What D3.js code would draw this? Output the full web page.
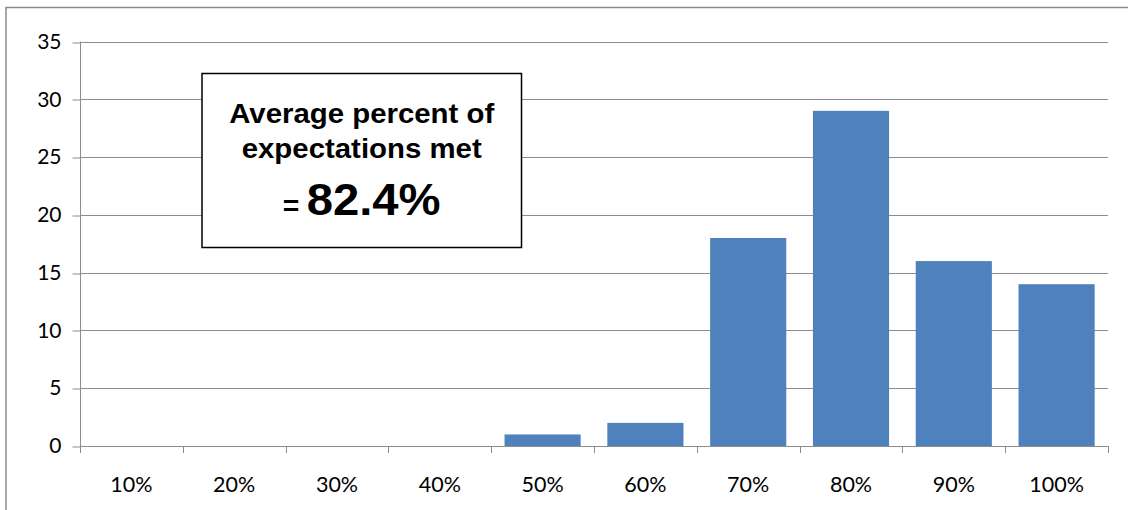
<!DOCTYPE html>
<html>
<head>
<meta charset="utf-8">
<script src="https://cdn.jsdelivr.net/npm/d3@7"></script>
<style>
  html, body { margin: 0; padding: 0; background: #fff; }
  svg { display: block; }
</style>
</head>
<body>
<svg id="chart" width="1128" height="510"></svg>
<script>
// Distribution of the percent of expectations met
const categories = ["10%", "20%", "30%", "40%", "50%", "60%", "70%", "80%", "90%", "100%"];
const counts = [0, 0, 0, 0, 1, 2, 18, 29, 16, 14];
const yTicks = [0, 5, 10, 15, 20, 25, 30, 35];
const noteLines = ["Average percent of", "expectations met"];
const noteValue = "82.4%";

const svg = d3.select("#chart");
const W = 1128, H = 510;
const plot = { left: 80, right: 1108, top: 41.5, bottom: 446 };
const labelFont = "Lato, 'Open Sans', sans-serif";
const noteFont = "'Liberation Sans', Arial, sans-serif";

// outer chart frame
svg.append("rect")
  .attr("x", 6).attr("y", 7.5)
  .attr("width", W + 10).attr("height", H + 10)
  .attr("fill", "none").attr("stroke", "#8a8a8a").attr("stroke-width", 1.5);

const x = d3.scaleBand()
  .domain(categories)
  .range([plot.left, plot.right])
  .paddingInner(0.35 / 1.35)
  .paddingOuter(0.35 / 2.7);

const y = d3.scaleLinear().domain([0, 35]).range([plot.bottom, plot.top]);

// horizontal gridlines
svg.append("g")
  .selectAll("line")
  .data(yTicks.filter(d => d > 0))
  .join("line")
  .attr("x1", plot.left).attr("x2", plot.right)
  .attr("y1", d => Math.round(y(d)) + 0.5).attr("y2", d => Math.round(y(d)) + 0.5)
  .attr("stroke", "#8c8c8c").attr("stroke-width", 1);

// y axis
const yAxis = svg.append("g")
  .attr("transform", `translate(${plot.left + 0.5},0)`)
  .call(d3.axisLeft(y).tickValues(yTicks).tickSize(8).tickPadding(11).tickFormat(d3.format("d")));
yAxis.select(".domain").attr("stroke", "#8c8c8c").attr("d", `M-0,${plot.top}V${plot.bottom + 6}`);
yAxis.selectAll(".tick line").attr("stroke", "#8c8c8c")
  .attr("transform", d => `translate(0,${Math.round(y(d)) + 0.5 - y(d)})`);
yAxis.selectAll(".tick text")
  .attr("fill", "#000")
  .style("font-family", labelFont)
  .style("font-size", "21px");

// bars
svg.append("g")
  .selectAll("rect")
  .data(categories.map((c, i) => ({ c, v: counts[i] })).filter(d => d.v > 0))
  .join("rect")
  .attr("x", d => x(d.c))
  .attr("y", d => y(d.v))
  .attr("width", x.bandwidth())
  .attr("height", d => y(0) - y(d.v))
  .attr("fill", "#4f81bd");

// x axis with ticks on category boundaries
const step = x.step();
const boundaries = d3.range(categories.length + 1).map(i => plot.left + i * step);
const xg = svg.append("g");
xg.append("line")
  .attr("x1", plot.left).attr("x2", plot.right)
  .attr("y1", plot.bottom + 0.5).attr("y2", plot.bottom + 0.5)
  .attr("stroke", "#8c8c8c").attr("stroke-width", 1);
xg.selectAll("line.tk")
  .data(boundaries)
  .join("line")
  .attr("class", "tk")
  .attr("x1", d => Math.round(d) + 0.5).attr("x2", d => Math.round(d) + 0.5)
  .attr("y1", plot.bottom).attr("y2", plot.bottom + 7)
  .attr("stroke", "#8c8c8c").attr("stroke-width", 1);
xg.selectAll("text")
  .data(categories)
  .join("text")
  .attr("x", d => x(d) + x.bandwidth() / 2)
  .attr("y", 492)
  .attr("text-anchor", "middle")
  .attr("fill", "#000")
  .style("font-family", labelFont)
  .style("font-size", "21.5px")
  .text(d => d);

// annotation box
const note = svg.append("g");
note.append("rect")
  .attr("x", 202).attr("y", 73.5)
  .attr("width", 319.5).attr("height", 174)
  .attr("fill", "#fff").attr("stroke", "#000").attr("stroke-width", 1.5);
const cx = 361.7;
// slightly widened lettering inside the box
const noteText = note.append("g")
  .attr("transform", `translate(${cx},0) scale(1.05,1)`);
noteText.selectAll("text.line")
  .data(noteLines)
  .join("text")
  .attr("class", "line")
  .attr("x", 0)
  .attr("y", (d, i) => 123.3 + i * 35)
  .attr("text-anchor", "middle")
  .style("font-family", noteFont)
  .style("font-weight", "bold")
  .style("font-size", "28px")
  .text(d => d);
const last = noteText.append("text")
  .attr("x", 0).attr("y", 215)
  .attr("text-anchor", "middle")
  .style("font-family", noteFont)
  .style("font-weight", "bold");
last.append("tspan").style("font-size", "27px").text("=");
last.append("tspan").attr("dx", 7).style("font-size", "45px").text(noteValue);
</script>
</body>
</html>
